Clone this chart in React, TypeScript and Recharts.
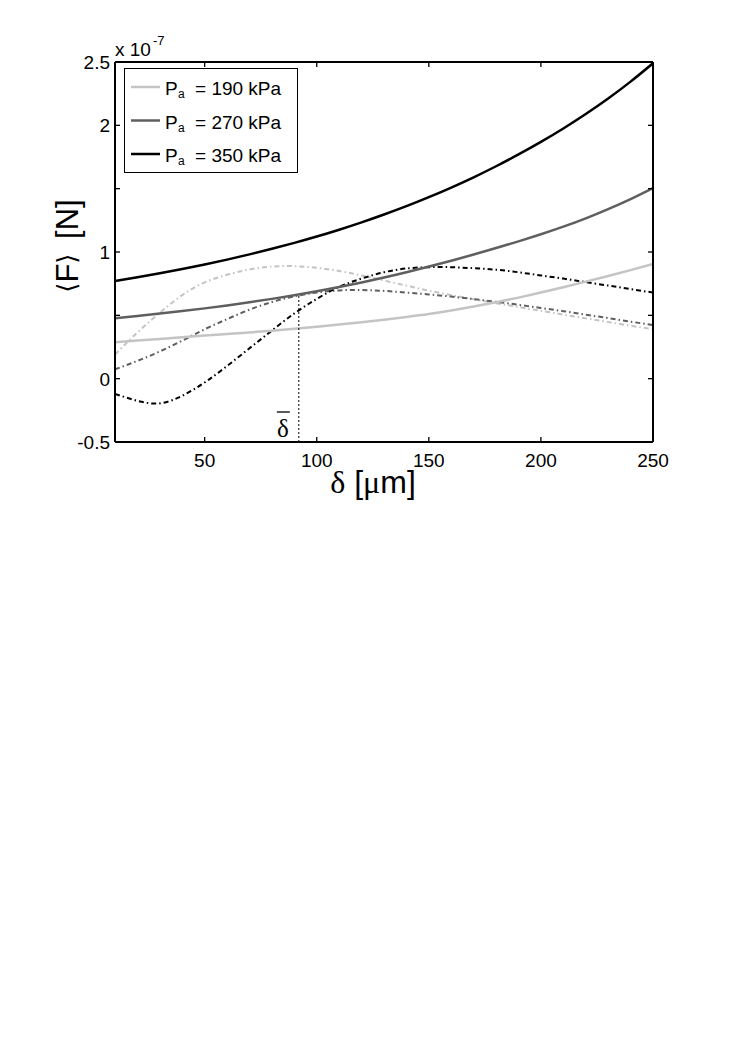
import { LineChart, Line, XAxis, YAxis, ReferenceLine } from 'recharts';

// δ in µm, sampled every 10
const DELTA = [10, 20, 30, 40, 50, 60, 70, 80, 90, 100, 110, 120, 130, 140, 150, 160, 170, 180, 190, 200, 210, 220, 230, 240, 250];

// <F> in units of 1e-7 N, solid curves (legend entries)
const F_190 = [0.287, 0.301, 0.314, 0.327, 0.34, 0.352, 0.365, 0.379, 0.394, 0.41, 0.427, 0.446, 0.466, 0.487, 0.51, 0.538, 0.569, 0.603, 0.64, 0.68, 0.722, 0.766, 0.811, 0.857, 0.905];
const F_270 = [0.476, 0.495, 0.514, 0.534, 0.555, 0.578, 0.603, 0.63, 0.659, 0.69, 0.723, 0.759, 0.798, 0.84, 0.885, 0.931, 0.98, 1.031, 1.084, 1.14, 1.2, 1.266, 1.339, 1.418, 1.505];
const F_350 = [0.77, 0.8, 0.832, 0.866, 0.902, 0.94, 0.981, 1.025, 1.072, 1.122, 1.176, 1.234, 1.296, 1.362, 1.433, 1.509, 1.59, 1.677, 1.77, 1.869, 1.975, 2.089, 2.212, 2.345, 2.49];

// dash-dot curves, same pressures
const G_190 = [0.19, 0.365, 0.52, 0.66, 0.76, 0.82, 0.862, 0.885, 0.888, 0.875, 0.85, 0.815, 0.775, 0.735, 0.695, 0.66, 0.627, 0.596, 0.566, 0.536, 0.506, 0.476, 0.447, 0.418, 0.39];
const G_270 = [0.074, 0.14, 0.215, 0.3, 0.39, 0.47, 0.545, 0.605, 0.65, 0.68, 0.697, 0.7, 0.693, 0.68, 0.665, 0.648, 0.628, 0.607, 0.583, 0.558, 0.533, 0.505, 0.478, 0.45, 0.424];
const G_350 = [-0.12, -0.175, -0.195, -0.135, -0.03, 0.1, 0.24, 0.38, 0.515, 0.63, 0.725, 0.79, 0.84, 0.87, 0.88, 0.88, 0.872, 0.86, 0.84, 0.815, 0.79, 0.762, 0.735, 0.707, 0.68];

const X_TICKS = [50, 100, 150, 200, 250];
const Y_TICKS = [-0.5, 0, 0.5, 1, 1.5, 2, 2.5];
const Y_LABELS: Record<number, string> = { [-0.5]: '-0.5', 0: '0', 1: '1', 2: '2', 2.5: '2.5' };

const DELTA_BAR = 92;
const DELTA_BAR_TOP = 0.66;

const PRESSURES = ['190', '270', '350'];

const LIGHT = '#c4c4c4';
const MID = '#5f5f5f';
const DARK = '#000000';
const COLORS = [LIGHT, MID, DARK];

const W = 700;
const H = 520;
const PLOT = { left: 107, top: 54, right: 645, bottom: 434 };
const SANS = '"Liberation Sans", Arial, Helvetica, sans-serif';
const SERIF = '"Liberation Serif", "DejaVu Serif", serif';
const DASHDOT = '5 3 1.5 3';
const TICK = 5;

const data = DELTA.map((d, i) => ({
  delta: d,
  f190: F_190[i], f270: F_270[i], f350: F_350[i],
  g190: G_190[i], g270: G_270[i], g350: G_350[i],
}));

function BottomTick({ x, y, payload }: any) {
  return (
    <g>
      <line x1={x} y1={y} x2={x} y2={y - TICK} stroke="#000" strokeWidth={1.3} />
      <text x={x} y={y + 25} textAnchor="middle" fontSize={19} fontFamily={SANS} fill="#000">
        {payload.value}
      </text>
    </g>
  );
}

function TopTick({ x, y }: any) {
  return <line x1={x} y1={y} x2={x} y2={y + TICK} stroke="#000" strokeWidth={1.3} />;
}

function LeftTick({ x, y, payload }: any) {
  const label = Y_LABELS[payload.value];
  return (
    <g>
      <line x1={x} y1={y} x2={x + TICK} y2={y} stroke="#000" strokeWidth={1.3} />
      {label && (
        <text x={x - 5} y={y + 7} textAnchor="end" fontSize={19} fontFamily={SANS} fill="#000">
          {label}
        </text>
      )}
    </g>
  );
}

function RightTick({ x, y }: any) {
  return <line x1={x} y1={y} x2={x - TICK} y2={y} stroke="#000" strokeWidth={1.3} />;
}

function DeltaBarLine(p: any) {
  const top = Math.min(p.y1, p.y2);
  const bottom = Math.max(p.y1, p.y2);
  return (
    <g>
      <line x1={p.x1} y1={bottom} x2={p.x1} y2={top} stroke="#000" strokeWidth={1} strokeDasharray="2 2" />
      <text x={p.x1 - 16} y={bottom - 5} textAnchor="middle" fontSize={25} fontFamily={SERIF} fill="#000">
        δ
      </text>
      <line x1={p.x1 - 22} y1={bottom - 30} x2={p.x1 - 9} y2={bottom - 30} stroke="#000" strokeWidth={1.3} />
    </g>
  );
}

function LegendBox() {
  return (
    <div
      style={{
        position: 'absolute', left: 116, top: 60, width: 174, height: 105,
        border: '1px solid #000', background: '#fff', boxSizing: 'border-box',
      }}
    >
      <svg width={172} height={103} style={{ display: 'block' }}>
        {PRESSURES.map((p, i) => {
          const cy = 18 + i * 33.5;
          return (
            <g key={p}>
              <line x1={6} y1={cy} x2={35} y2={cy} stroke={COLORS[i]} strokeWidth={2.5} />
              <text x={40} y={cy + 8} fontSize={19} fontFamily={SANS} fill="#000">P</text>
              <text x={53} y={cy + 11} fontSize={12} fontFamily={SANS} fill="#000">a</text>
              <text x={70} y={cy + 8} fontSize={19} fontFamily={SANS} fill="#000">= {p} kPa</text>
            </g>
          );
        })}
      </svg>
    </div>
  );
}

export default function App() {
  return (
    <div style={{ position: 'relative', width: W, height: H, fontFamily: SANS }}>
      <LineChart
        width={W}
        height={H}
        data={data}
        margin={{ top: PLOT.top - 10, right: W - PLOT.right - 10, bottom: H - PLOT.bottom - 40, left: PLOT.left - 60 }}
      >
        <XAxis
          dataKey="delta" type="number" domain={[10, 250]} ticks={X_TICKS} allowDataOverflow
          height={40} tickSize={0} tickMargin={0} tick={<BottomTick />} interval={0}
          axisLine={{ stroke: '#000', strokeWidth: 2 }}
        />
        <XAxis
          xAxisId="top" orientation="top" dataKey="delta" type="number" domain={[10, 250]} ticks={X_TICKS}
          allowDataOverflow height={10} tickSize={0} tickMargin={0} tick={<TopTick />} interval={0}
          axisLine={{ stroke: '#000', strokeWidth: 2 }}
        />
        <YAxis
          type="number" domain={[-0.5, 2.5]} ticks={Y_TICKS} allowDataOverflow width={60}
          tickSize={0} tickMargin={0} tick={<LeftTick />} interval={0}
          axisLine={{ stroke: '#000', strokeWidth: 2 }}
        />
        <YAxis
          yAxisId="right" orientation="right" type="number" domain={[-0.5, 2.5]} ticks={Y_TICKS}
          allowDataOverflow width={10} tickSize={0} tickMargin={0} tick={<RightTick />} interval={0}
          axisLine={{ stroke: '#000', strokeWidth: 2 }}
        />

        <Line dataKey="g190" type="natural" stroke={LIGHT} strokeWidth={2} strokeDasharray={DASHDOT} dot={false} isAnimationActive={false} />
        <Line dataKey="g270" type="natural" stroke={MID} strokeWidth={2} strokeDasharray={DASHDOT} dot={false} isAnimationActive={false} />
        <Line dataKey="g350" type="natural" stroke={DARK} strokeWidth={2} strokeDasharray={DASHDOT} dot={false} isAnimationActive={false} />
        <Line dataKey="f190" type="natural" stroke={LIGHT} strokeWidth={2.5} dot={false} isAnimationActive={false} />
        <Line dataKey="f270" type="natural" stroke={MID} strokeWidth={2.5} dot={false} isAnimationActive={false} />
        <Line dataKey="f350" type="natural" stroke={DARK} strokeWidth={2.5} dot={false} isAnimationActive={false} />

        <ReferenceLine
          segment={[{ x: DELTA_BAR, y: -0.5 }, { x: DELTA_BAR, y: DELTA_BAR_TOP }]}
          shape={(p: any) => <DeltaBarLine {...p} />}
          ifOverflow="visible"
        />

        <text x={107} y={48} fontSize={19} fontFamily={SANS} fill="#000">x 10</text>
        <text x={145} y={37} fontSize={13} fontFamily={SANS} fill="#000">-7</text>

        <text x={365} y={485} textAnchor="middle" fontSize={32} fill="#000">
          <tspan fontFamily={SERIF}>δ</tspan>
          <tspan fontFamily={SANS}> [</tspan>
          <tspan fontFamily={SERIF}>μ</tspan>
          <tspan fontFamily={SANS}>m]</tspan>
        </text>

        <text
          x={59} y={238} textAnchor="middle" dominantBaseline="central" fontSize={31} fill="#000"
          transform="rotate(-90 59 238)"
        >
          <tspan fontFamily='"DejaVu Sans", sans-serif' fontSize={26}>⟨</tspan>
          <tspan fontFamily={SANS}>F</tspan>
          <tspan fontFamily='"DejaVu Sans", sans-serif' fontSize={26}>⟩</tspan>
          <tspan fontFamily={SANS} dx={6}> [N]</tspan>
        </text>
      </LineChart>
      <LegendBox />
    </div>
  );
}
